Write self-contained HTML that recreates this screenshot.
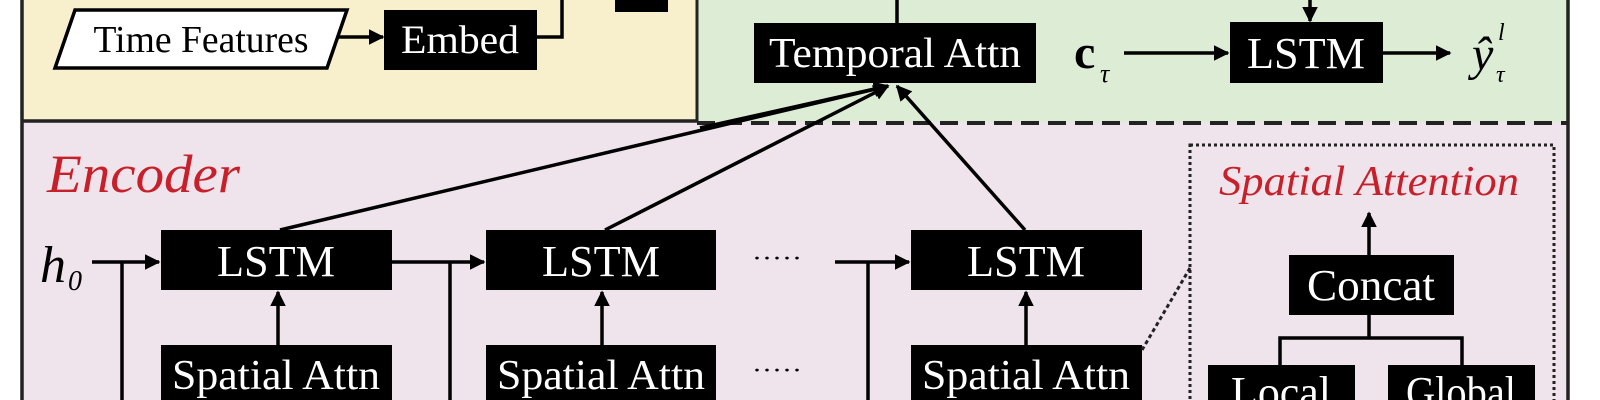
<!DOCTYPE html>
<html><head><meta charset="utf-8"><style>
html,body{margin:0;padding:0;background:#fff;}
svg{display:block;}
text{font-family:"Liberation Serif",serif;}
</style></head><body>
<svg width="1600" height="400" viewBox="0 0 1600 400" xmlns="http://www.w3.org/2000/svg">
<defs>
<marker id="a" viewBox="0 0 10 10" refX="9" refY="5" markerWidth="4.5" markerHeight="4.5" orient="auto"><path d="M0,0 L10,5 L0,10 z" fill="#000"/></marker>
</defs>
<rect x="0" y="0" width="1600" height="400" fill="#fff"/>
<rect x="22" y="0" width="675" height="122" fill="#f8f0cc"/>
<rect x="697" y="0" width="871" height="123" fill="#dcecd5"/>
<rect x="22" y="122" width="1546" height="278" fill="#efe3ec"/>
<line x1="22" y1="0" x2="22" y2="400" stroke="#222" stroke-width="3.5"/>
<line x1="1568" y1="0" x2="1568" y2="400" stroke="#222" stroke-width="3.5"/>
<line x1="697" y1="0" x2="697" y2="122" stroke="#222" stroke-width="3"/>
<line x1="22" y1="121" x2="697" y2="121" stroke="#222" stroke-width="3.5"/>
<line x1="697" y1="123" x2="1568" y2="123" stroke="#222" stroke-width="4" stroke-dasharray="18,9"/>

<!-- top-left -->
<polygon points="75,10 347,10 327,68 55,68" fill="#fff" stroke="#000" stroke-width="3.5"/>
<text x="201" y="52" font-size="38" text-anchor="middle" textLength="215" lengthAdjust="spacingAndGlyphs">Time Features</text>
<line x1="337" y1="37" x2="383" y2="37" stroke="#000" stroke-width="3.5" marker-end="url(#a)"/>
<rect x="384" y="10" width="153" height="60" fill="#000"/>
<text x="460" y="53" font-size="40" fill="#fff" text-anchor="middle" textLength="118" lengthAdjust="spacingAndGlyphs">Embed</text>
<polyline points="537,37 562,37 562,0" fill="none" stroke="#000" stroke-width="3.5"/>
<rect x="615" y="0" width="53" height="12" fill="#000"/>

<!-- decoder -->
<rect x="754" y="23" width="282" height="60" fill="#000"/>
<text x="895" y="67" font-size="42" fill="#fff" text-anchor="middle" textLength="252" lengthAdjust="spacingAndGlyphs">Temporal Attn</text>
<line x1="897" y1="0" x2="897" y2="23" stroke="#000" stroke-width="3.5"/>
<text x="1074" y="68" font-size="48" font-weight="bold">c</text>
<text x="1100" y="82" font-size="26" font-style="italic">τ</text>
<line x1="1124" y1="53" x2="1228" y2="53" stroke="#000" stroke-width="3.5" marker-end="url(#a)"/>
<rect x="1230" y="22" width="153" height="61" fill="#000"/>
<text x="1306" y="68" font-size="44" fill="#fff" text-anchor="middle" textLength="118" lengthAdjust="spacingAndGlyphs">LSTM</text>
<line x1="1310" y1="0" x2="1310" y2="21" stroke="#000" stroke-width="3.5" marker-end="url(#a)"/>
<line x1="1383" y1="53" x2="1450" y2="53" stroke="#000" stroke-width="3.5" marker-end="url(#a)"/>
<text x="1472" y="70" font-size="48" font-style="italic">ŷ</text>
<text x="1498" y="40" font-size="24" font-style="italic">l</text>
<text x="1496" y="82" font-size="24" font-style="italic">τ</text>

<!-- encoder -->
<text x="47" y="192" font-size="54" font-style="italic" fill="#c8202a" textLength="193" lengthAdjust="spacingAndGlyphs">Encoder</text>
<text x="40" y="282" font-size="52" font-style="italic">h</text>
<text x="68" y="290" font-size="28" font-style="italic">0</text>
<line x1="92" y1="262" x2="159" y2="262" stroke="#000" stroke-width="3.5" marker-end="url(#a)"/>
<line x1="122" y1="262" x2="122" y2="400" stroke="#000" stroke-width="3.5"/>
<rect x="161" y="230" width="231" height="60" fill="#000"/>
<text x="276" y="276" font-size="44" fill="#fff" text-anchor="middle" textLength="118" lengthAdjust="spacingAndGlyphs">LSTM</text>
<rect x="161" y="345" width="231" height="60" fill="#000"/>
<text x="276" y="389" font-size="42" fill="#fff" text-anchor="middle" textLength="208" lengthAdjust="spacingAndGlyphs">Spatial Attn</text>
<line x1="278" y1="345" x2="278" y2="292" stroke="#000" stroke-width="3.5" marker-end="url(#a)"/>

<line x1="392" y1="262" x2="484" y2="262" stroke="#000" stroke-width="3.5" marker-end="url(#a)"/>
<line x1="450" y1="262" x2="450" y2="400" stroke="#000" stroke-width="3.5"/>
<rect x="486" y="230" width="230" height="60" fill="#000"/>
<text x="601" y="276" font-size="44" fill="#fff" text-anchor="middle" textLength="118" lengthAdjust="spacingAndGlyphs">LSTM</text>
<rect x="486" y="345" width="230" height="60" fill="#000"/>
<text x="601" y="389" font-size="42" fill="#fff" text-anchor="middle" textLength="208" lengthAdjust="spacingAndGlyphs">Spatial Attn</text>
<line x1="602" y1="345" x2="602" y2="292" stroke="#000" stroke-width="3.5" marker-end="url(#a)"/>

<text x="752" y="266" font-size="24" textLength="50" lengthAdjust="spacingAndGlyphs">·····</text>
<text x="752" y="378" font-size="24" textLength="50" lengthAdjust="spacingAndGlyphs">·····</text>

<line x1="835" y1="262" x2="909" y2="262" stroke="#000" stroke-width="3.5" marker-end="url(#a)"/>
<line x1="868" y1="262" x2="868" y2="400" stroke="#000" stroke-width="3.5"/>
<rect x="911" y="230" width="231" height="60" fill="#000"/>
<text x="1026" y="276" font-size="44" fill="#fff" text-anchor="middle" textLength="118" lengthAdjust="spacingAndGlyphs">LSTM</text>
<rect x="911" y="345" width="231" height="60" fill="#000"/>
<text x="1026" y="389" font-size="42" fill="#fff" text-anchor="middle" textLength="208" lengthAdjust="spacingAndGlyphs">Spatial Attn</text>
<line x1="1026" y1="345" x2="1026" y2="292" stroke="#000" stroke-width="3.5" marker-end="url(#a)"/>

<!-- to temporal attn -->
<line x1="280" y1="230" x2="888" y2="86" stroke="#000" stroke-width="3.5" marker-end="url(#a)"/>
<line x1="605" y1="230" x2="888" y2="86" stroke="#000" stroke-width="3.5" marker-end="url(#a)"/>
<line x1="700" y1="128" x2="888" y2="86" stroke="#000" stroke-width="3.5"/>
<line x1="1025" y1="230" x2="897" y2="86" stroke="#000" stroke-width="3.5" marker-end="url(#a)"/>

<!-- spatial attention detail -->
<rect x="1190" y="145" width="364" height="270" fill="none" stroke="#222" stroke-width="3" stroke-dasharray="3,3"/>
<line x1="1142" y1="350" x2="1190" y2="268" stroke="#222" stroke-width="3" stroke-dasharray="4,3"/>
<text x="1369" y="195" font-size="42" font-style="italic" fill="#c8202a" text-anchor="middle" textLength="300" lengthAdjust="spacingAndGlyphs">Spatial Attention</text>
<line x1="1369" y1="255" x2="1369" y2="213" stroke="#000" stroke-width="3.5" marker-end="url(#a)"/>
<rect x="1289" y="255" width="165" height="60" fill="#000"/>
<text x="1371" y="300" font-size="44" fill="#fff" text-anchor="middle" textLength="128" lengthAdjust="spacingAndGlyphs">Concat</text>
<polyline points="1369,315 1369,338" fill="none" stroke="#000" stroke-width="3.5"/>
<polyline points="1280,365 1280,338 1462,338 1462,365" fill="none" stroke="#000" stroke-width="3.5"/>
<rect x="1208" y="365" width="147" height="50" fill="#000"/>
<text x="1281" y="407" font-size="44" fill="#fff" text-anchor="middle" textLength="100" lengthAdjust="spacingAndGlyphs">Local</text>
<rect x="1388" y="365" width="147" height="50" fill="#000"/>
<text x="1461" y="407" font-size="44" fill="#fff" text-anchor="middle" textLength="110" lengthAdjust="spacingAndGlyphs">Global</text>
</svg>
</body></html>
